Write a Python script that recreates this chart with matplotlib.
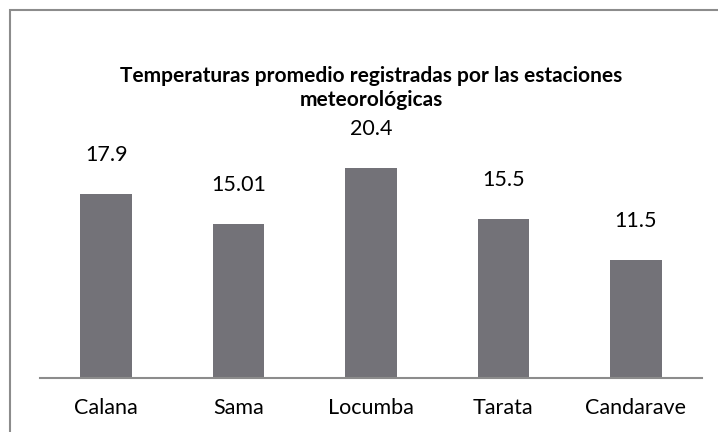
import matplotlib.pyplot as plt
from matplotlib.patches import Rectangle

estaciones = ['Calana', 'Sama', 'Locumba', 'Tarata', 'Candarave']
temperaturas = [17.9, 15.01, 20.4, 15.5, 11.5]
etiquetas = ['17.9', '15.01', '20.4', '15.5', '11.5']

plt.rcParams['font.family'] = ['Lato', 'DejaVu Sans']

W, H = 718, 432
fig = plt.figure(figsize=(W / 100, H / 100), dpi=100)

# outer chart border (cut off at right and bottom like the source)
fig.patches.append(Rectangle((10 / W, -0.1), 1.2, (H - 10) / H + 0.1,
                             transform=fig.transFigure, fill=False,
                             edgecolor='#8c8c8c', linewidth=1.5))

ax = fig.add_axes([40 / W, 54 / H, 662 / W, 257 / H])
x = range(len(estaciones))
ax.bar(x, temperaturas, width=0.39, color='#737278')
ax.set_xlim(-0.5, len(estaciones) - 0.5)
ax.set_ylim(0, 25)

for xi, v, lab in zip(x, temperaturas, etiquetas):
    ax.annotate(lab, (xi, v), xytext=(0, 28), textcoords='offset points',
                ha='center', va='center', fontsize=15.5, color='black')

ax.set_xticks(list(x))
ax.set_xticklabels(estaciones, fontsize=15.5)
ax.tick_params(axis='x', length=0, pad=14.5)
ax.set_yticks([])
for s in ['top', 'right', 'left']:
    ax.spines[s].set_visible(False)
ax.spines['bottom'].set_color('#8c8c8c')
ax.spines['bottom'].set_linewidth(1.5)

fig.text(371 / W, 1 - 88 / H,
         'Temperaturas promedio registradas por las estaciones\nmeteorológicas',
         ha='center', va='center', fontsize=15, fontweight='bold',
         linespacing=1.2)

fig.savefig('out.png', dpi=100)
